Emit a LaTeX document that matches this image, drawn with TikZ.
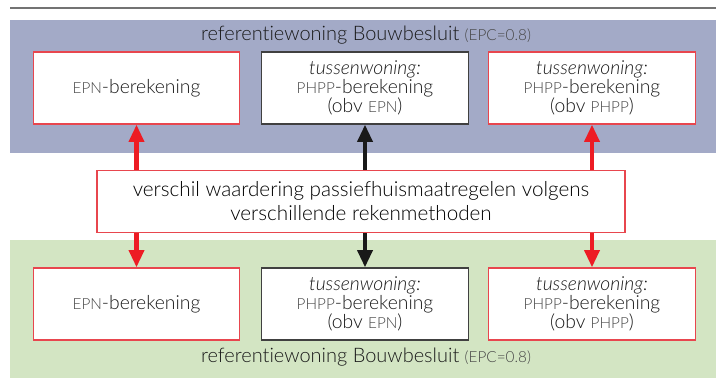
\documentclass[tikz,border=0pt]{standalone}
\usepackage{fontspec}
\setmainfont{Lato}[UprightFont=* Light, ItalicFont=* Light Italic, Ligatures=NoCommon]
\usetikzlibrary{arrows.meta}

\definecolor{bandblue}{RGB}{163,170,199}
\definecolor{bandgreen}{RGB}{211,229,195}
\definecolor{pijlrood}{RGB}{237,28,36}
\definecolor{randrood}{RGB}{232,70,78}
\definecolor{tekst}{RGB}{25,25,25}
\definecolor{kaptekst}{RGB}{70,70,70}

% small caps by hand: smaller capitals
\newcommand\kap[1]{{\fontsize{11.5}{12}\selectfont\color{kaptekst}#1}}

\tikzset{
  rekenbox/.style={draw=randrood, fill=white, line width=0.8pt,
    minimum width=155pt, minimum height=54pt, align=center, inner sep=2pt,
    font=\fontsize{14.5}{14.5}\selectfont, text=tekst},
  grijsbox/.style={rekenbox, draw=black!75},
  titel/.style={font=\fontsize{15}{17}\selectfont, text=tekst},
  pijl/.style={line width=3.4pt, -{Triangle[width=11pt,length=13pt]}},
}

\begin{document}
\begin{tikzpicture}[x=0.75pt,y=-0.75pt]
  \useasboundingbox (0,0) rectangle (716,385);
  \draw[black!55,line width=1pt] (10,8) -- (716,8);
  % the two bands
  \fill[bandblue] (10,20) rectangle (716,153);
  \fill[bandgreen] (10,240) rectangle (716,378);
  \node[titel] (titelboven) at (366,35) {referentiewoning Bouwbesluit \kap{(EPC=0.8)}};
  \node[titel] (titelonder) at (366,357) {referentiewoning Bouwbesluit \kap{(EPC=0.8)}};

  % upper row
  \node[rekenbox] (epnboven) at (136.5,88) {\kap{EPN}-berekening};
  \node[grijsbox] (phppboven) at (365,88) {\textit{tussenwoning:}\\\kap{PHPP}-berekening\\(obv \kap{EPN})};
  \node[rekenbox] (obvboven) at (592,88) {\textit{tussenwoning:}\\\kap{PHPP}-berekening\\(obv \kap{PHPP})};

  % lower row
  \node[rekenbox] (epnonder) at (136.5,304) {\kap{EPN}-berekening};
  \node[grijsbox] (phpponder) at (365,304) {\textit{tussenwoning:}\\\kap{PHPP}-berekening\\(obv \kap{EPN})};
  \node[rekenbox] (obvonder) at (592,304) {\textit{tussenwoning:}\\\kap{PHPP}-berekening\\(obv \kap{PHPP})};

  \node[rekenbox, minimum width=396pt, minimum height=47pt,
    font=\fontsize{15.5}{18}\selectfont, text=black] (verschil) at (361,201.5)
    {verschil waardering passiefhuismaatregelen volgens\\verschillende rekenmethoden};

  % arrows out of the middle box
  \draw[pijl,pijlrood] (verschil.north -| epnboven) -- (epnboven);
  \draw[pijl,pijlrood] (verschil.south -| epnonder) -- (epnonder);
  \draw[pijl,black!90] (verschil.north -| phppboven) -- (phppboven);
  \draw[pijl,black!90] (verschil.south -| phpponder) -- (phpponder);
  \draw[pijl,pijlrood] (verschil.north -| obvboven) -- (obvboven);
  \draw[pijl,pijlrood] (verschil.south -| obvonder) -- (obvonder);
\end{tikzpicture}
\end{document}
